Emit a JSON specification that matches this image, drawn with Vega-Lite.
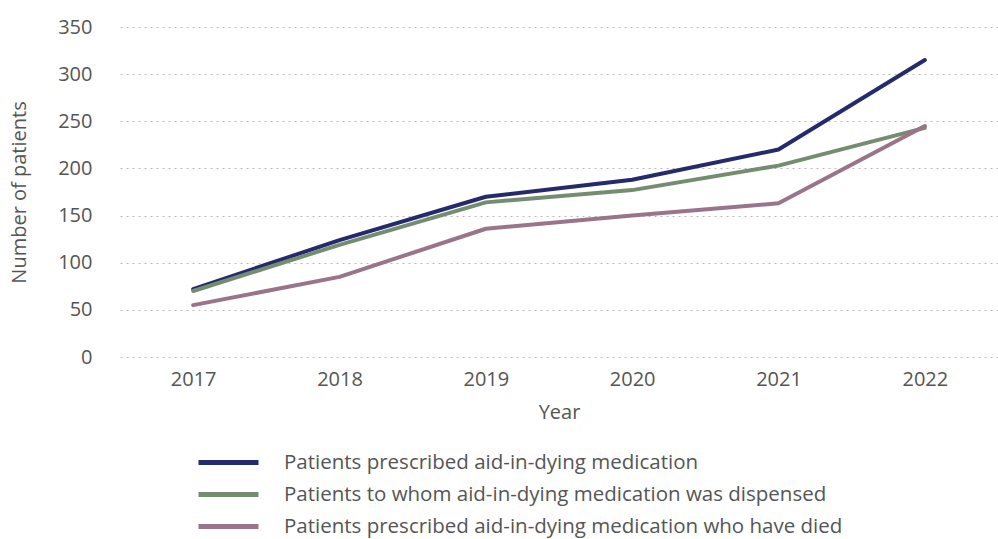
{
  "$schema": "https://vega.github.io/schema/vega-lite/v6.json",
  "width": 878,
  "height": 330,
  "autosize": {"type": "none"},
  "padding": {"left": 120, "top": 27, "right": 0, "bottom": 182},
  "background": "white",
  "config": {
    "view": {"stroke": null},
    "font": "Open Sans",
    "axis": {"labelColor": "#555555", "titleColor": "#555555", "labelFont": "Open Sans", "titleFont": "Open Sans", "titleFontWeight": "normal"},
    "legend": {"labelColor": "#555555", "labelFont": "Open Sans"}
  },
  "data": {
    "values": [
      {"year": "2017", "series": "Patients prescribed aid-in-dying medication", "value": 72},
      {"year": "2018", "series": "Patients prescribed aid-in-dying medication", "value": 124},
      {"year": "2019", "series": "Patients prescribed aid-in-dying medication", "value": 170},
      {"year": "2020", "series": "Patients prescribed aid-in-dying medication", "value": 188},
      {"year": "2021", "series": "Patients prescribed aid-in-dying medication", "value": 220},
      {"year": "2022", "series": "Patients prescribed aid-in-dying medication", "value": 315},
      {"year": "2017", "series": "Patients to whom aid-in-dying medication was dispensed", "value": 70},
      {"year": "2018", "series": "Patients to whom aid-in-dying medication was dispensed", "value": 119},
      {"year": "2019", "series": "Patients to whom aid-in-dying medication was dispensed", "value": 164},
      {"year": "2020", "series": "Patients to whom aid-in-dying medication was dispensed", "value": 177},
      {"year": "2021", "series": "Patients to whom aid-in-dying medication was dispensed", "value": 203},
      {"year": "2022", "series": "Patients to whom aid-in-dying medication was dispensed", "value": 243},
      {"year": "2017", "series": "Patients prescribed aid-in-dying medication who have died", "value": 55},
      {"year": "2018", "series": "Patients prescribed aid-in-dying medication who have died", "value": 85},
      {"year": "2019", "series": "Patients prescribed aid-in-dying medication who have died", "value": 136},
      {"year": "2020", "series": "Patients prescribed aid-in-dying medication who have died", "value": 150},
      {"year": "2021", "series": "Patients prescribed aid-in-dying medication who have died", "value": 163},
      {"year": "2022", "series": "Patients prescribed aid-in-dying medication who have died", "value": 245}
    ]
  },
  "mark": {"type": "line", "strokeWidth": 4, "strokeCap": "round", "strokeJoin": "round"},
  "encoding": {
    "x": {
      "field": "year", "type": "ordinal",
      "scale": {"type": "point", "padding": 0.5},
      "axis": {"title": "Year", "labelAngle": 0, "domain": false, "ticks": false, "labelPadding": 12, "labelFontSize": 20, "titleFontSize": 20, "titlePadding": 13}
    },
    "y": {
      "field": "value", "type": "quantitative",
      "scale": {"domain": [0, 350], "nice": false},
      "axis": {"title": "Number of patients", "values": [0, 50, 100, 150, 200, 250, 300, 350], "domain": false, "ticks": false, "labelPadding": 28, "labelFontSize": 20, "titleFontSize": 20, "titlePadding": 28, "gridDash": [2, 4], "gridColor": "#bbbbbb", "gridWidth": 1}
    },
    "color": {
      "field": "series", "type": "nominal",
      "sort": ["Patients prescribed aid-in-dying medication", "Patients to whom aid-in-dying medication was dispensed", "Patients prescribed aid-in-dying medication who have died"],
      "scale": {"range": ["#252a6b", "#748c70", "#9a7488"]},
      "legend": {
        "title": null, "orient": "none", "legendX": 96, "legendY": 423,
        "symbolType": "M-3,0H3", "symbolSize": 400, "symbolStrokeWidth": 5, "symbolStrokeCap": "round",
        "labelFontSize": 20.5, "labelOffset": 43, "rowPadding": 9, "labelLimit": 800
      }
    }
  }
}
